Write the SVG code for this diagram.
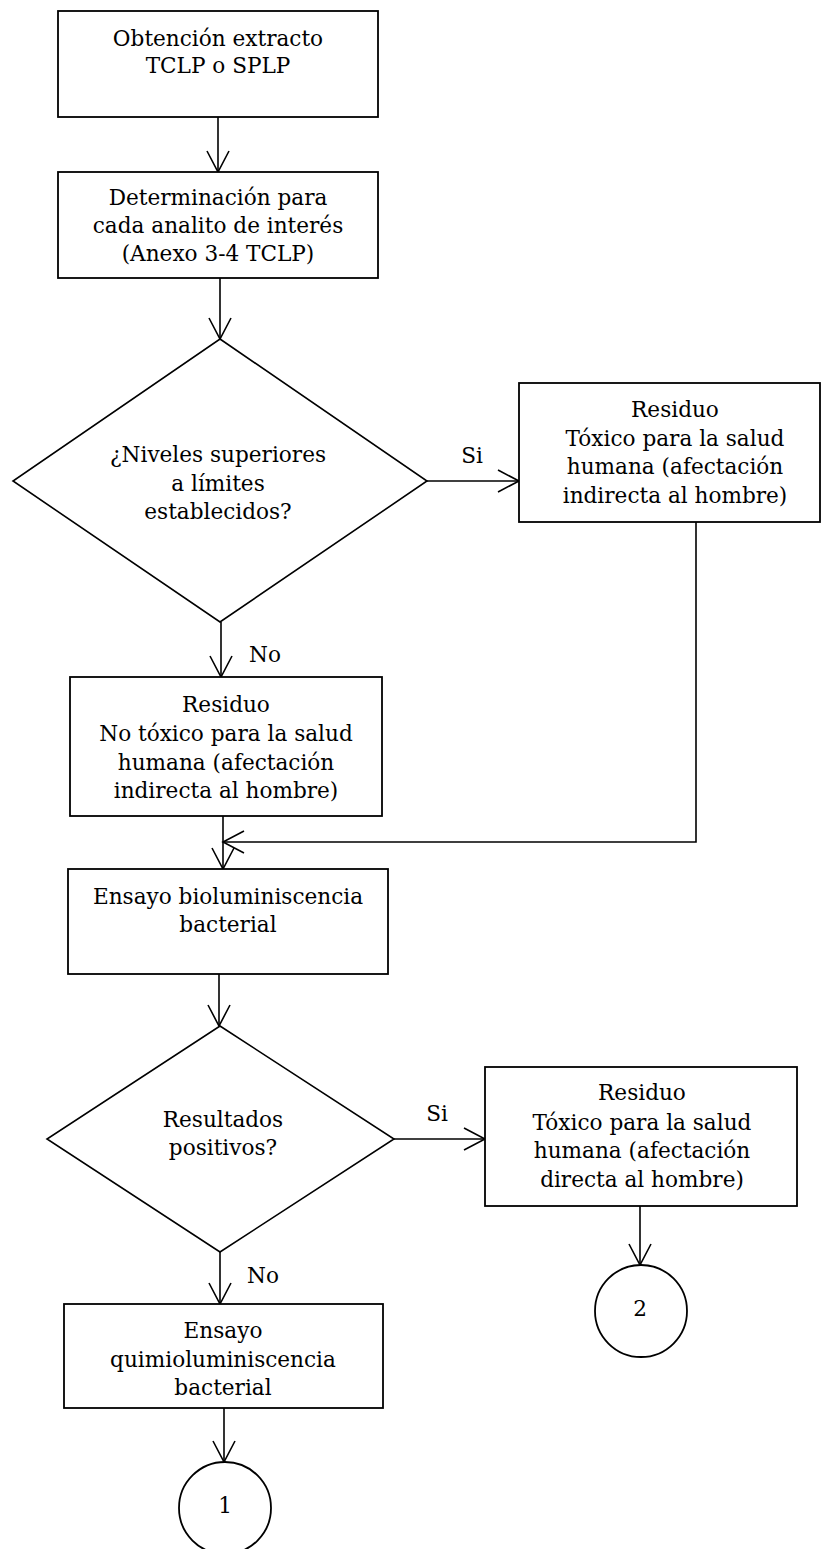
<svg xmlns="http://www.w3.org/2000/svg" width="821" height="1549" viewBox="0 0 821 1549">
<style>
.box{fill:#fff;stroke:#000;stroke-width:1.8}
.dia{fill:#fff;stroke:#000;stroke-width:1.6}
.ln{fill:none;stroke:#000;stroke-width:1.6}
text{font-family:"DejaVu Serif","Liberation Serif",serif;font-size:21.6px;fill:#000;text-anchor:middle}
</style>
<defs>
<marker id="ah" viewBox="-22 -12 24 24" refX="0" refY="0" markerWidth="24" markerHeight="24" markerUnits="userSpaceOnUse" orient="auto">
<path d="M-21,-11 L0,0 L-21,11" fill="none" stroke="#000" stroke-width="1.6"/>
</marker>
</defs>
<rect width="821" height="1549" fill="#fff"/>
<g id="connectors">
<line class="ln" x1="218" y1="117" x2="218" y2="172" marker-end="url(#ah)"/>
<line class="ln" x1="220" y1="278" x2="220" y2="339" marker-end="url(#ah)"/>
<line class="ln" x1="427" y1="481" x2="519" y2="481" marker-end="url(#ah)"/>
<line class="ln" x1="221" y1="622" x2="221" y2="677" marker-end="url(#ah)"/>
<polyline class="ln" points="696,522 696,842 223,842" marker-end="url(#ah)"/>
<line class="ln" x1="223" y1="816" x2="223" y2="869" marker-end="url(#ah)"/>
<line class="ln" x1="219" y1="974" x2="219" y2="1026" marker-end="url(#ah)"/>
<line class="ln" x1="394" y1="1139" x2="485" y2="1139" marker-end="url(#ah)"/>
<line class="ln" x1="220" y1="1252" x2="220" y2="1304" marker-end="url(#ah)"/>
<line class="ln" x1="640" y1="1206" x2="640" y2="1265" marker-end="url(#ah)"/>
<line class="ln" x1="224" y1="1408" x2="224" y2="1462" marker-end="url(#ah)"/>
<text x="472" y="463">Si</text>
<text x="265" y="662">No</text>
<text x="437" y="1121">Si</text>
<text x="263" y="1283">No</text>
</g>
<g id="n1">
<rect class="box" x="58" y="11" width="320" height="106"/>
<text x="218" y="46">Obtención extracto</text>
<text x="218" y="73">TCLP o SPLP</text>
</g>
<g id="n2">
<rect class="box" x="58" y="172" width="320" height="106"/>
<text x="218" y="205">Determinación para</text>
<text x="218" y="233">cada analito de interés</text>
<text x="218" y="261">(Anexo 3-4 TCLP)</text>
</g>
<g id="d1">
<polygon class="dia" points="220,339 427,481 220,622 13,481"/>
<text x="218" y="462">¿Niveles superiores</text>
<text x="218" y="491">a límites</text>
<text x="218" y="519">establecidos?</text>
</g>
<g id="n3">
<rect class="box" x="519" y="383" width="301" height="139"/>
<text x="675" y="417">Residuo</text>
<text x="675" y="446">Tóxico para la salud</text>
<text x="675" y="474">humana (afectación</text>
<text x="675" y="503">indirecta al hombre)</text>
</g>
<g id="n4">
<rect class="box" x="70" y="677" width="312" height="139"/>
<text x="226" y="712">Residuo</text>
<text x="226" y="741">No tóxico para la salud</text>
<text x="226" y="770">humana (afectación</text>
<text x="226" y="798">indirecta al hombre)</text>
</g>
<g id="n5">
<rect class="box" x="68" y="869" width="320" height="105"/>
<text x="228" y="904">Ensayo bioluminiscencia</text>
<text x="228" y="932">bacterial</text>
</g>
<g id="d2">
<polygon class="dia" points="220,1026 394,1139 220,1252 47,1139"/>
<text x="223" y="1127">Resultados</text>
<text x="223" y="1155">positivos?</text>
</g>
<g id="n6">
<rect class="box" x="485" y="1067" width="312" height="139"/>
<text x="642" y="1100">Residuo</text>
<text x="642" y="1130">Tóxico para la salud</text>
<text x="642" y="1158">humana (afectación</text>
<text x="642" y="1187">directa al hombre)</text>
</g>
<g id="n7">
<rect class="box" x="64" y="1304" width="319" height="104"/>
<text x="223" y="1338">Ensayo</text>
<text x="223" y="1367">quimioluminiscencia</text>
<text x="223" y="1395">bacterial</text>
</g>
<g id="c2">
<circle class="box" cx="641" cy="1311" r="46"/>
<text x="640" y="1316">2</text>
</g>
<g id="c1">
<circle class="box" cx="225" cy="1508" r="46"/>
<text x="225" y="1513">1</text>
</g>
</svg>
